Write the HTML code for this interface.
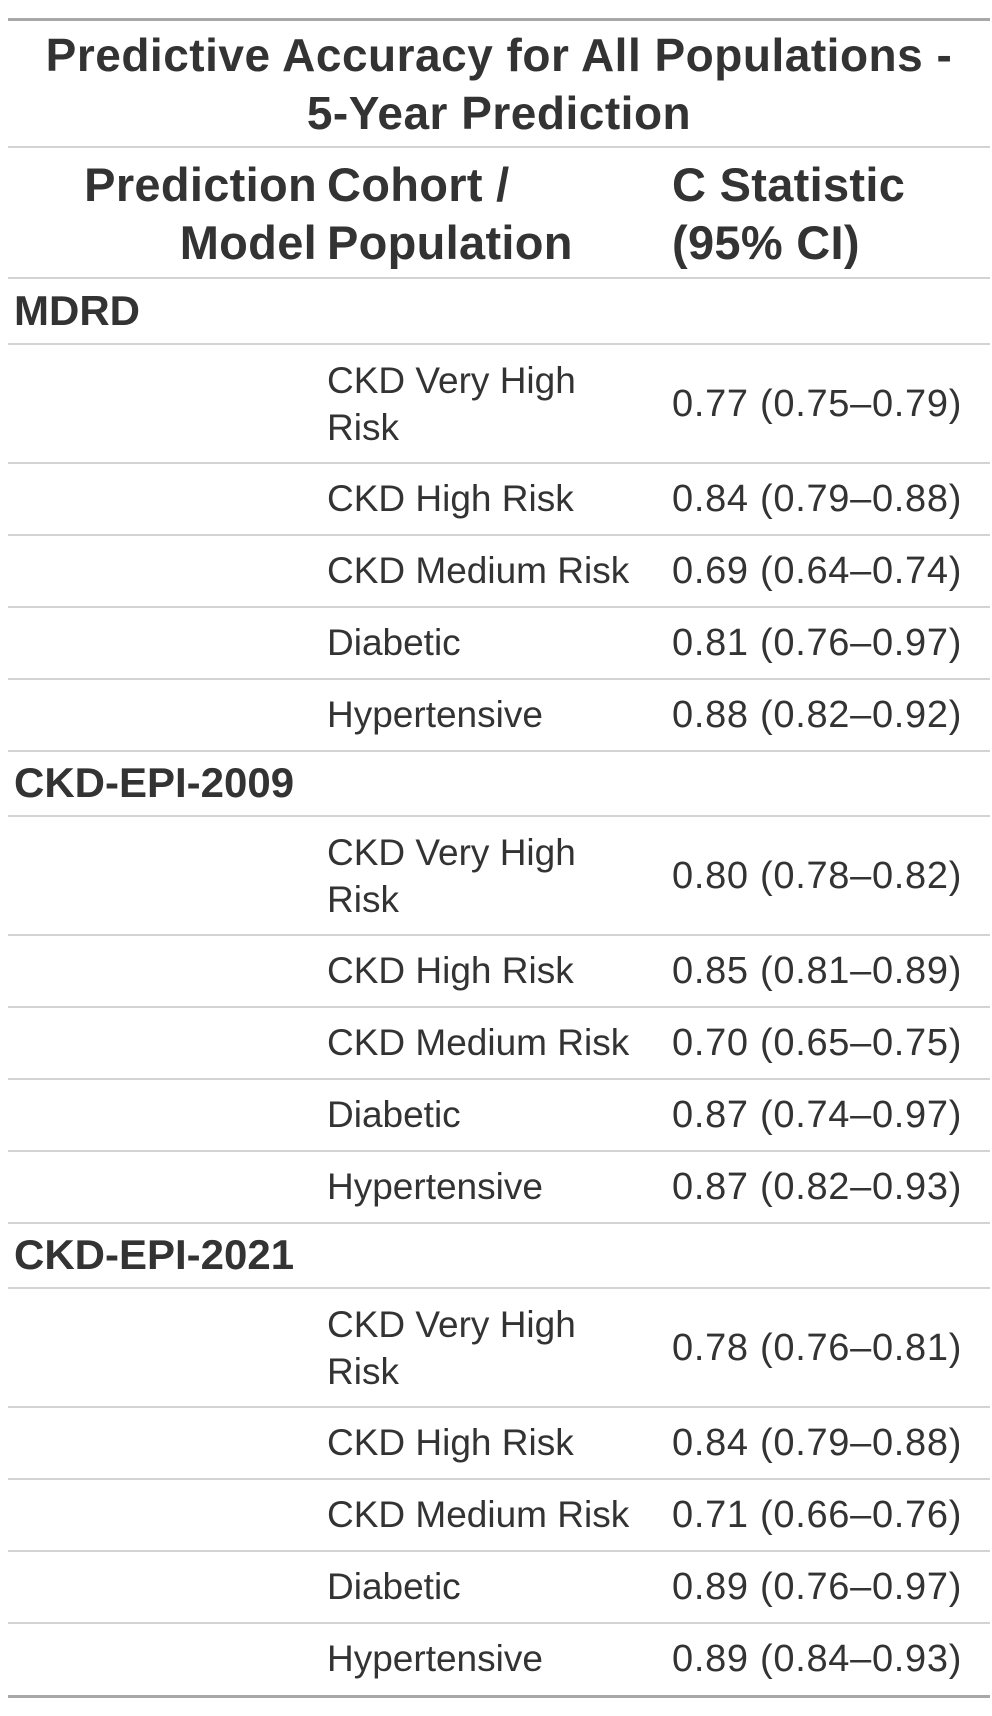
<!DOCTYPE html>
<html><head><meta charset="utf-8">
<style>
html,body{margin:0;padding:0;background:#fff;}
body{width:992px;height:1716px;position:relative;overflow:hidden;font-family:"Liberation Sans",sans-serif;color:#333;}
.hl{position:absolute;left:8px;width:982px;height:2px;background:#d3d3d3;}
.hl.thick{height:3px;background:#a8a8a8;}
.t{position:absolute;white-space:nowrap;}
.title{left:8px;width:982px;text-align:center;font-weight:bold;font-size:46px;line-height:58px;letter-spacing:0.5px;}
.hd{font-weight:bold;font-size:47px;line-height:58px;letter-spacing:0.3px;}
.grp{left:14px;font-weight:bold;font-size:42px;line-height:46px;}
.pop{left:327px;font-size:37px;line-height:47px;}
.val{left:672px;font-size:38px;line-height:46px;letter-spacing:0.7px;}
</style></head>
<body>
<div class="hl thick" style="top:18px"></div>
<div class="t title" style="top:26px">Predictive Accuracy for All Populations -<br>5-Year Prediction</div>
<div class="hl" style="top:146px"></div>
<div class="t hd" style="left:8px;width:309px;text-align:right;top:156px">Prediction<br>Model</div>
<div class="t hd" style="left:327px;top:156px">Cohort /<br>Population</div>
<div class="t hd" style="left:672px;top:156px">C Statistic<br>(95% CI)</div>
<div class="hl" style="top:277px"></div>
<div class="hl thick" style="top:1695px"></div>
<script>
const groups=["MDRD","CKD-EPI-2009","CKD-EPI-2021"];
const populations=["CKD Very High<br>Risk","CKD High Risk","CKD Medium Risk","Diabetic","Hypertensive"];
const values=[
["0.77 (0.75–0.79)","0.84 (0.79–0.88)","0.69 (0.64–0.74)","0.81 (0.76–0.97)","0.88 (0.82–0.92)"],
["0.80 (0.78–0.82)","0.85 (0.81–0.89)","0.70 (0.65–0.75)","0.87 (0.74–0.97)","0.87 (0.82–0.93)"],
["0.78 (0.76–0.81)","0.84 (0.79–0.88)","0.71 (0.66–0.76)","0.89 (0.76–0.97)","0.89 (0.84–0.93)"]
];
const body=document.body;
let y=278;
function add(cls,top,html,name){
 const d=document.createElement('div');
 d.className=cls;d.style.top=top+'px';d.innerHTML=html;
 
 
 body.appendChild(d);return d;
}
groups.forEach((g,gi)=>{
 add('t grp',y+10,g,'group-label');
 y+=65;
 add('hl',y,'','group-separator');
 populations.forEach((p,pi)=>{
  const h=pi===0?119:72;
  add('t pop',pi===0?y+14:y+13,p,'population-label');
  add('t val',y+h/2-22,values[gi][pi],'c-statistic-value');
  y+=h;
  if(!(gi===groups.length-1&&pi===populations.length-1))add('hl',y,'','row-separator');
 });
});
</script>
</body></html>
